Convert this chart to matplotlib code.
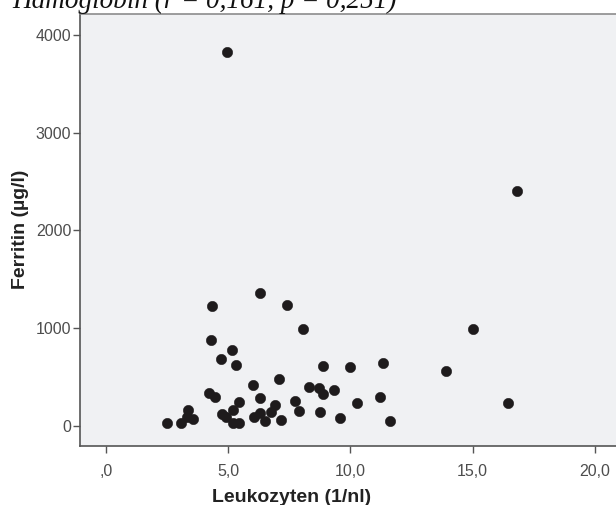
import matplotlib
matplotlib.use("Agg")
import matplotlib.pyplot as plt

# Data
leukozyten = [4.94, 16.83, 15.02, 13.92, 16.45, 11.34, 11.23, 11.63, 6.32, 4.35,
              4.32, 5.14, 4.69, 5.32, 6.01, 4.20, 4.46, 6.30, 5.43, 3.34,
              3.30, 3.55, 2.48, 3.07, 5.21, 4.75, 4.90, 5.21, 5.44, 6.05,
              6.30, 6.52, 7.42, 8.07, 8.87, 9.98, 7.08, 8.31, 8.70, 8.87,
              9.33, 10.26, 7.75, 6.91, 7.90, 6.74, 8.76, 7.15, 9.56]
ferritin = [3824, 2406, 992, 563, 227, 643, 287, 43, 1361, 1227,
            879, 773, 681, 623, 412, 336, 289, 282, 238, 155,
            90, 63, 29, 22, 155, 118, 90, 29, 29, 90,
            125, 51, 1238, 986, 613, 599, 473, 398, 387, 320,
            361, 231, 248, 207, 152, 138, 138, 59, 74]

x_ticks = [0, 5, 10, 15, 20]
x_tick_labels = [",0", "5,0", "10,0", "15,0", "20,0"]
y_ticks = [0, 1000, 2000, 3000, 4000]
y_tick_labels = ["0", "1000", "2000", "3000", "4000"]

title = "Hämoglobin (r = 0,161, p = 0,251)"
x_label = "Leukozyten (1/nl)"
y_label = "Ferritin (µg/l)"

plt.rcParams['font.family'] = ['Liberation Sans', 'DejaVu Sans']

W, H = 616, 505
fig = plt.figure(figsize=(W / 100, H / 100), dpi=100)
fig.patch.set_facecolor("white")

left_px, right_px, top_px, bottom_px = 79.5, 640, 13.5, 446
ax = fig.add_axes([left_px / W, (H - bottom_px) / H,
                   (right_px - left_px) / W, (bottom_px - top_px) / H])
ax.set_facecolor("#f0f1f3")

ax.scatter(leukozyten, ferritin, s=55, color="#1e1b1c", edgecolors="#1e1b1c",
           linewidths=0.4, zorder=3)

ax.set_xlim(-1.08, 21.85)
ax.set_ylim(-210, 4221)

ax.set_xticks(x_ticks)
ax.set_xticklabels(x_tick_labels)
ax.set_yticks(y_ticks)
ax.set_yticklabels(y_tick_labels)

for side in ["left", "bottom"]:
    ax.spines[side].set_color("#555555")
    ax.spines[side].set_linewidth(1.2)
ax.spines["top"].set_color("#8c8c8c")
ax.spines["top"].set_linewidth(1.2)
ax.spines["right"].set_visible(False)

ax.tick_params(axis="x", direction="out", length=5, width=1, color="#555555",
               labelsize=11.5, labelcolor="#4d4d4d", pad=8)
ax.tick_params(axis="y", direction="out", length=5, width=1, color="#555555",
               labelsize=11.5, labelcolor="#4d4d4d", pad=1)

ax.set_xlabel(x_label, fontsize=14, fontweight="bold", color="#222222")
ax.xaxis.set_label_coords((291.5 - left_px) / (right_px - left_px),
                          (bottom_px - 498) / (bottom_px - top_px))
ax.xaxis.label.set_va("center")
ax.set_ylabel(y_label, fontsize=14, fontweight="bold", color="#222222")
ax.yaxis.set_label_coords((20 - left_px) / (right_px - left_px), 0.5)
ax.yaxis.label.set_va("center")

fig.text(12 / W, (H - 8) / H, title, fontsize=19.5, style="italic",
         family=["Liberation Serif", "DejaVu Serif"], color="#111111",
         ha="left", va="baseline")

fig.savefig("out.png", dpi=100)
